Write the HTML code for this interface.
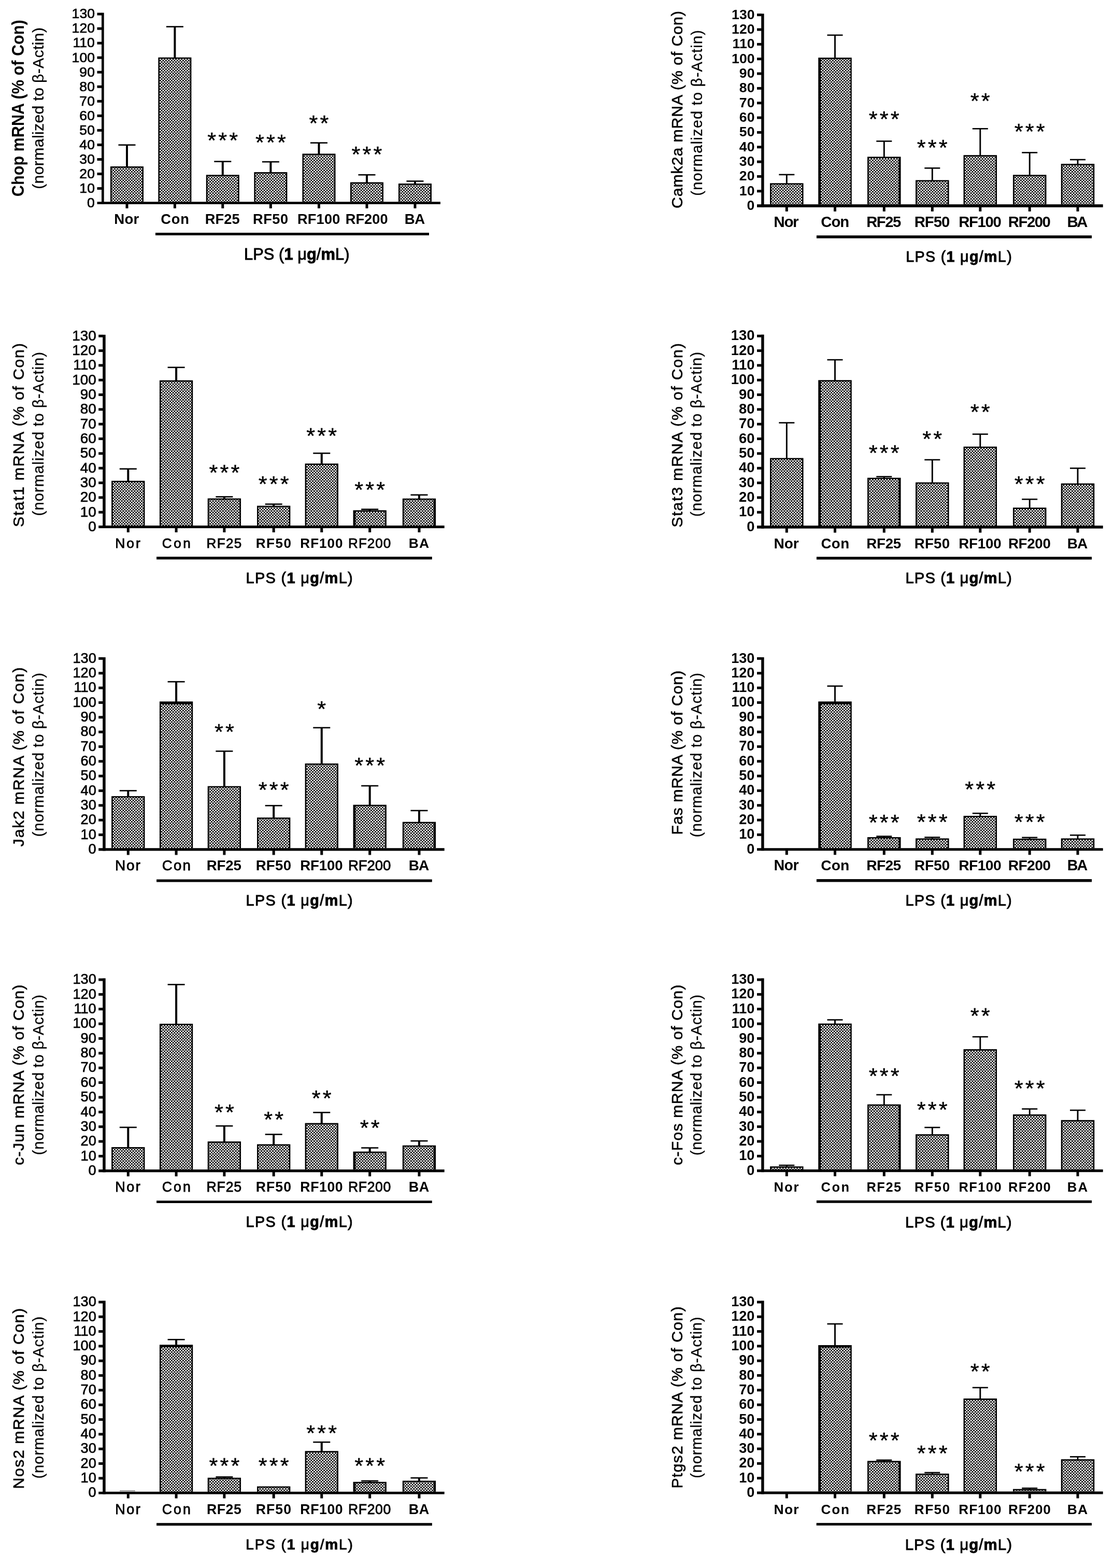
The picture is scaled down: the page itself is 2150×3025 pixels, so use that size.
<!DOCTYPE html>
<html><head><meta charset="utf-8"><title>Figure</title>
<style>html,body{margin:0;padding:0;background:#fff;}svg{display:block}text{font-family:"Liberation Sans",Arial,sans-serif;fill:#000}</style>
</head><body>
<svg width="2150" height="3025" viewBox="0 0 2150 3025">
<defs>
<pattern id="p1" width="5.5" height="5.5" patternUnits="userSpaceOnUse"><rect width="5.5" height="5.5" fill="#fff"/><rect width="2.75" height="2.75" fill="#000"/><rect x="2.75" y="2.75" width="2.75" height="2.75" fill="#000"/></pattern>
</defs>
<rect width="2150" height="3025" fill="#fff"/>
<rect x="213" y="321" width="64" height="68.3" fill="#000"/>
<rect x="215.6" y="323.6" width="58.8" height="65.7" fill="url(#p1)"/>
<rect x="243" y="279.7" width="4" height="41.8" fill="#000"/>
<rect x="228.5" y="278.4" width="33" height="2.6" fill="#000"/>
<rect x="305.4" y="110.8" width="64" height="278.5" fill="#000"/>
<rect x="308" y="113.4" width="58.8" height="275.9" fill="url(#p1)"/>
<rect x="335.4" y="51.5" width="4" height="59.8" fill="#000"/>
<rect x="320.9" y="50.2" width="33" height="2.6" fill="#000"/>
<rect x="397.8" y="337.3" width="64" height="52" fill="#000"/>
<rect x="400.4" y="339.9" width="58.8" height="49.4" fill="url(#p1)"/>
<rect x="427.8" y="311.6" width="4" height="26.2" fill="#000"/>
<rect x="413.3" y="310.3" width="33" height="2.6" fill="#000"/>
<rect x="490.4" y="332.1" width="64" height="57.2" fill="#000"/>
<rect x="493" y="334.7" width="58.8" height="54.6" fill="url(#p1)"/>
<rect x="520.4" y="312.2" width="4" height="20.4" fill="#000"/>
<rect x="505.9" y="310.9" width="33" height="2.6" fill="#000"/>
<rect x="583.5" y="296.5" width="64" height="92.8" fill="#000"/>
<rect x="586.1" y="299.1" width="58.8" height="90.2" fill="url(#p1)"/>
<rect x="613.5" y="275.6" width="4" height="21.4" fill="#000"/>
<rect x="599" y="274.3" width="33" height="2.6" fill="#000"/>
<rect x="676" y="351.6" width="64" height="37.7" fill="#000"/>
<rect x="678.6" y="354.2" width="58.8" height="35.1" fill="url(#p1)"/>
<rect x="706" y="337.3" width="4" height="14.8" fill="#000"/>
<rect x="691.5" y="336" width="33" height="2.6" fill="#000"/>
<rect x="769" y="354.1" width="64" height="35.2" fill="#000"/>
<rect x="771.6" y="356.7" width="58.8" height="32.6" fill="url(#p1)"/>
<rect x="799" y="349.5" width="4" height="5.1" fill="#000"/>
<rect x="784.5" y="348.2" width="33" height="2.6" fill="#000"/>
<rect x="196" y="24.6" width="4.7" height="369.3" fill="#000"/>
<text x="168.12" y="399.9" font-size="26.57" font-weight="normal" stroke="#000" stroke-width="0.7">0</text>
<rect x="187.5" y="361.06" width="9" height="5" fill="#000"/>
<text x="153.37" y="371.86" font-size="26.57" font-weight="normal" stroke="#000" stroke-width="0.7">10</text>
<rect x="187.5" y="333.02" width="9" height="5" fill="#000"/>
<text x="153.37" y="343.82" font-size="26.57" font-weight="normal" stroke="#000" stroke-width="0.7">20</text>
<rect x="187.5" y="304.98" width="9" height="5" fill="#000"/>
<text x="153.37" y="315.78" font-size="26.57" font-weight="normal" stroke="#000" stroke-width="0.7">30</text>
<rect x="187.5" y="276.95" width="9" height="5" fill="#000"/>
<text x="153.37" y="287.75" font-size="26.57" font-weight="normal" stroke="#000" stroke-width="0.7">40</text>
<rect x="187.5" y="248.91" width="9" height="5" fill="#000"/>
<text x="153.37" y="259.71" font-size="26.57" font-weight="normal" stroke="#000" stroke-width="0.7">50</text>
<rect x="187.5" y="220.87" width="9" height="5" fill="#000"/>
<text x="153.37" y="231.67" font-size="26.57" font-weight="normal" stroke="#000" stroke-width="0.7">60</text>
<rect x="187.5" y="192.83" width="9" height="5" fill="#000"/>
<text x="153.37" y="203.63" font-size="26.57" font-weight="normal" stroke="#000" stroke-width="0.7">70</text>
<rect x="187.5" y="164.79" width="9" height="5" fill="#000"/>
<text x="153.37" y="175.59" font-size="26.57" font-weight="normal" stroke="#000" stroke-width="0.7">80</text>
<rect x="187.5" y="136.75" width="9" height="5" fill="#000"/>
<text x="153.37" y="147.55" font-size="26.57" font-weight="normal" stroke="#000" stroke-width="0.7">90</text>
<rect x="187.5" y="108.72" width="9" height="5" fill="#000"/>
<text x="138.62" y="119.52" font-size="26.57" font-weight="normal" stroke="#000" stroke-width="0.7">100</text>
<rect x="187.5" y="80.68" width="9" height="5" fill="#000"/>
<text x="140.48" y="91.48" font-size="26.57" font-weight="normal" stroke="#000" stroke-width="0.7">110</text>
<rect x="187.5" y="52.64" width="9" height="5" fill="#000"/>
<text x="138.62" y="63.44" font-size="26.57" font-weight="normal" stroke="#000" stroke-width="0.7">120</text>
<rect x="187.5" y="24.6" width="9" height="5" fill="#000"/>
<text x="138.62" y="35.4" font-size="26.57" font-weight="normal" stroke="#000" stroke-width="0.7">130</text>
<rect x="187.5" y="389.3" width="662.5" height="4.6" fill="#000"/>
<rect x="242.5" y="393.4" width="5" height="8.5" fill="#000"/>
<rect x="334.9" y="393.4" width="5" height="8.5" fill="#000"/>
<rect x="427.3" y="393.4" width="5" height="8.5" fill="#000"/>
<rect x="519.9" y="393.4" width="5" height="8.5" fill="#000"/>
<rect x="613" y="393.4" width="5" height="8.5" fill="#000"/>
<rect x="705.5" y="393.4" width="5" height="8.5" fill="#000"/>
<rect x="798.5" y="393.4" width="5" height="8.5" fill="#000"/>
<text x="220.2" y="432.4" font-size="27.68" font-weight="bold" textLength="48.14" lengthAdjust="spacing">Nor</text>
<text x="310.31" y="432.4" font-size="27.29" font-weight="bold" textLength="54.7" lengthAdjust="spacing">Con</text>
<text x="395.78" y="432.4" font-size="27.29" font-weight="bold" textLength="66.97" lengthAdjust="spacing">RF25</text>
<text x="487.88" y="432.4" font-size="27.29" font-weight="bold" textLength="68.38" lengthAdjust="spacing">RF50</text>
<text x="573.98" y="432.4" font-size="27.29" font-weight="bold" textLength="82.41" lengthAdjust="spacing">RF100</text>
<text x="666.73" y="432.4" font-size="27.29" font-weight="bold" textLength="81.91" lengthAdjust="spacing">RF200</text>
<text x="780.7" y="432.4" font-size="27.68" font-weight="bold" textLength="39.61" lengthAdjust="spacing">BA</text>
<rect x="300" y="449" width="528" height="5" fill="#000"/>
<text x="471.03" y="500.5" font-size="30.87" textLength="203.4" lengthAdjust="spacing" stroke="#000" stroke-width="0.9">LPS (<tspan font-weight="bold">1</tspan> μ<tspan font-weight="bold">g</tspan>/<tspan font-weight="bold">m</tspan>L)</text>
<text x="400.33" y="284.87" font-size="43.43" font-weight="normal" letter-spacing="4.1" stroke="#000" stroke-width="0.4">***</text>
<text x="492.93" y="288.57" font-size="43.43" font-weight="normal" letter-spacing="4.1" stroke="#000" stroke-width="0.4">***</text>
<text x="596.53" y="252.37" font-size="43.43" font-weight="normal" letter-spacing="4.1" stroke="#000" stroke-width="0.4">**</text>
<text x="678.53" y="312.07" font-size="43.43" font-weight="normal" letter-spacing="4.1" stroke="#000" stroke-width="0.4">***</text>
<text transform="translate(45.5,379.15) rotate(-90)" font-size="33.66" font-weight="bold" textLength="340.85" lengthAdjust="spacingAndGlyphs">Chop mRNA (% of Con)</text>
<text transform="translate(84,364.81) rotate(-90)" font-size="30.21" font-weight="normal" textLength="311.83" lengthAdjust="spacing" stroke="#000" stroke-width="0.3">(normalized to β-Actin)</text>

<rect x="1486.05" y="353.4" width="64.5" height="40.8" fill="#000"/>
<rect x="1488.65" y="356" width="59.3" height="38.2" fill="url(#p1)"/>
<rect x="1516.85" y="336.9" width="2.9" height="17" fill="#000"/>
<rect x="1503.3" y="335.6" width="30" height="2.6" fill="#000"/>
<rect x="1579.25" y="111.2" width="64.5" height="283" fill="#000"/>
<rect x="1584.25" y="114" width="57.1" height="280.2" fill="url(#p1)"/>
<rect x="1610.05" y="67.8" width="2.9" height="43.9" fill="#000"/>
<rect x="1596.5" y="66.5" width="30" height="2.6" fill="#000"/>
<rect x="1674.05" y="302.4" width="64.5" height="91.8" fill="#000"/>
<rect x="1676.65" y="305" width="57.7" height="89.2" fill="url(#p1)"/>
<rect x="1704.85" y="272.4" width="2.9" height="30.5" fill="#000"/>
<rect x="1691.3" y="271.1" width="30" height="2.6" fill="#000"/>
<rect x="1767.05" y="347.5" width="64.5" height="46.7" fill="#000"/>
<rect x="1769.65" y="350.1" width="59.3" height="44.1" fill="url(#p1)"/>
<rect x="1797.85" y="324.3" width="2.9" height="23.7" fill="#000"/>
<rect x="1784.3" y="323" width="30" height="2.6" fill="#000"/>
<rect x="1859.55" y="299.2" width="64.5" height="95" fill="#000"/>
<rect x="1862.15" y="301.8" width="59.3" height="92.4" fill="url(#p1)"/>
<rect x="1890.35" y="248.3" width="2.9" height="51.4" fill="#000"/>
<rect x="1876.8" y="247" width="30" height="2.6" fill="#000"/>
<rect x="1954.95" y="337.3" width="64.5" height="56.9" fill="#000"/>
<rect x="1957.55" y="339.9" width="59.3" height="54.3" fill="url(#p1)"/>
<rect x="1985.75" y="294.4" width="2.9" height="43.4" fill="#000"/>
<rect x="1972.2" y="293.1" width="30" height="2.6" fill="#000"/>
<rect x="2047.75" y="316" width="64.5" height="78.2" fill="#000"/>
<rect x="2050.35" y="318.6" width="59.3" height="75.6" fill="url(#p1)"/>
<rect x="2078.55" y="308" width="2.9" height="8.5" fill="#000"/>
<rect x="2065" y="306.7" width="30" height="2.6" fill="#000"/>
<rect x="1469.2" y="26.4" width="5.4" height="373.5" fill="#000"/>
<text x="1441.62" y="405" font-size="26.57" font-weight="bold">0</text>
<rect x="1461" y="366.26" width="8.7" height="5" fill="#000"/>
<text x="1426.87" y="376.66" font-size="26.57" font-weight="bold">10</text>
<rect x="1461" y="337.92" width="8.7" height="5" fill="#000"/>
<text x="1426.87" y="348.32" font-size="26.57" font-weight="bold">20</text>
<rect x="1461" y="309.58" width="8.7" height="5" fill="#000"/>
<text x="1426.87" y="319.98" font-size="26.57" font-weight="bold">30</text>
<rect x="1461" y="281.25" width="8.7" height="5" fill="#000"/>
<text x="1426.87" y="291.65" font-size="26.57" font-weight="bold">40</text>
<rect x="1461" y="252.91" width="8.7" height="5" fill="#000"/>
<text x="1426.87" y="263.31" font-size="26.57" font-weight="bold">50</text>
<rect x="1461" y="224.57" width="8.7" height="5" fill="#000"/>
<text x="1426.87" y="234.97" font-size="26.57" font-weight="bold">60</text>
<rect x="1461" y="196.23" width="8.7" height="5" fill="#000"/>
<text x="1426.87" y="206.63" font-size="26.57" font-weight="bold">70</text>
<rect x="1461" y="167.89" width="8.7" height="5" fill="#000"/>
<text x="1426.87" y="178.29" font-size="26.57" font-weight="bold">80</text>
<rect x="1461" y="139.55" width="8.7" height="5" fill="#000"/>
<text x="1426.87" y="149.95" font-size="26.57" font-weight="bold">90</text>
<rect x="1461" y="111.22" width="8.7" height="5" fill="#000"/>
<text x="1412.12" y="121.62" font-size="26.57" font-weight="bold">100</text>
<rect x="1461" y="82.88" width="8.7" height="5" fill="#000"/>
<text x="1413.58" y="93.28" font-size="26.57" font-weight="bold">110</text>
<rect x="1461" y="54.54" width="8.7" height="5" fill="#000"/>
<text x="1412.12" y="64.94" font-size="26.57" font-weight="bold">120</text>
<rect x="1461" y="26.2" width="8.7" height="5" fill="#000"/>
<text x="1412.12" y="36.6" font-size="26.57" font-weight="bold">130</text>
<rect x="1461" y="394.2" width="667.7" height="5.7" fill="#000"/>
<rect x="1515.8" y="399.4" width="5" height="8.5" fill="#000"/>
<rect x="1609" y="399.4" width="5" height="8.5" fill="#000"/>
<rect x="1703.8" y="399.4" width="5" height="8.5" fill="#000"/>
<rect x="1796.8" y="399.4" width="5" height="8.5" fill="#000"/>
<rect x="1889.3" y="399.4" width="5" height="8.5" fill="#000"/>
<rect x="1984.7" y="399.4" width="5" height="8.5" fill="#000"/>
<rect x="2077.5" y="399.4" width="5" height="8.5" fill="#000"/>
<text x="1493.37" y="437.8" font-size="29.71" font-weight="bold" textLength="48.29" lengthAdjust="spacing">Nor</text>
<text x="1584.33" y="437.8" font-size="29.29" font-weight="bold" textLength="54.9" lengthAdjust="spacing">Con</text>
<text x="1672.15" y="437.8" font-size="29.29" font-weight="bold" textLength="67.15" lengthAdjust="spacing">RF25</text>
<text x="1764.65" y="437.8" font-size="29.29" font-weight="bold" textLength="68.59" lengthAdjust="spacing">RF50</text>
<text x="1850.15" y="437.8" font-size="29.29" font-weight="bold" textLength="82.62" lengthAdjust="spacing">RF100</text>
<text x="1945.8" y="437.8" font-size="29.29" font-weight="bold" textLength="82.12" lengthAdjust="spacing">RF200</text>
<text x="2059.57" y="437.8" font-size="29.71" font-weight="bold" textLength="39.8" lengthAdjust="spacing">BA</text>
<rect x="1575.9" y="454.2" width="531.2" height="5.5" fill="#000"/>
<text x="1748.2" y="505.4" font-size="28.7" textLength="204.49" lengthAdjust="spacing" stroke="#000" stroke-width="0.9">LPS (<tspan font-weight="bold">1</tspan> μ<tspan font-weight="bold">g</tspan>/<tspan font-weight="bold">m</tspan>L)</text>
<text x="1676.83" y="244.07" font-size="43.43" font-weight="normal" letter-spacing="4.1" stroke="#000" stroke-width="0.4">***</text>
<text x="1769.83" y="298.67" font-size="43.43" font-weight="normal" letter-spacing="4.1" stroke="#000" stroke-width="0.4">***</text>
<text x="1872.83" y="208.97" font-size="43.43" font-weight="normal" letter-spacing="4.1" stroke="#000" stroke-width="0.4">**</text>
<text x="1957.73" y="268.17" font-size="43.43" font-weight="normal" letter-spacing="4.1" stroke="#000" stroke-width="0.4">***</text>
<text transform="translate(1316.8,402.01) rotate(-90)" font-size="30.21" font-weight="normal" textLength="380.81" lengthAdjust="spacing" stroke="#000" stroke-width="0.6">Camk2a mRNA (% of Con)</text>
<text transform="translate(1355.3,377.74) rotate(-90)" font-size="28.97" font-weight="normal" textLength="319.68" lengthAdjust="spacing" stroke="#000" stroke-width="0.3">(normalized to β-Actin)</text>

<rect x="215.15" y="927.6" width="64.3" height="86.3" fill="#000"/>
<rect x="217.75" y="930.2" width="59.1" height="83.7" fill="url(#p1)"/>
<rect x="245.3" y="904.6" width="4" height="23.5" fill="#000"/>
<rect x="230.8" y="903.3" width="33" height="2.6" fill="#000"/>
<rect x="307.95" y="733.7" width="64.3" height="280.2" fill="#000"/>
<rect x="310.55" y="736.3" width="59.1" height="277.6" fill="url(#p1)"/>
<rect x="338.1" y="708.8" width="4" height="25.4" fill="#000"/>
<rect x="323.6" y="707.5" width="33" height="2.6" fill="#000"/>
<rect x="400.75" y="961.5" width="64.3" height="52.4" fill="#000"/>
<rect x="403.35" y="964.1" width="59.1" height="49.8" fill="url(#p1)"/>
<rect x="430.9" y="958.4" width="4" height="3.6" fill="#000"/>
<rect x="416.4" y="957.1" width="33" height="2.6" fill="#000"/>
<rect x="496.05" y="975.7" width="64.3" height="38.2" fill="#000"/>
<rect x="498.65" y="978.3" width="59.1" height="35.6" fill="url(#p1)"/>
<rect x="526.2" y="972.6" width="4" height="3.6" fill="#000"/>
<rect x="511.7" y="971.3" width="33" height="2.6" fill="#000"/>
<rect x="588.65" y="894.3" width="64.3" height="119.6" fill="#000"/>
<rect x="591.25" y="896.9" width="59.1" height="117" fill="url(#p1)"/>
<rect x="618.8" y="874.4" width="4" height="20.4" fill="#000"/>
<rect x="604.3" y="873.1" width="33" height="2.6" fill="#000"/>
<rect x="681.55" y="984.4" width="64.3" height="29.5" fill="#000"/>
<rect x="686.25" y="987" width="57" height="26.9" fill="url(#p1)"/>
<rect x="711.7" y="982.6" width="4" height="2.3" fill="#000"/>
<rect x="697.2" y="981.3" width="33" height="2.6" fill="#000"/>
<rect x="776.85" y="961.7" width="64.3" height="52.2" fill="#000"/>
<rect x="779.45" y="964.3" width="57.4" height="49.6" fill="url(#p1)"/>
<rect x="807" y="954.8" width="4" height="7.4" fill="#000"/>
<rect x="792.5" y="953.5" width="33" height="2.6" fill="#000"/>
<rect x="198.2" y="645.8" width="5.5" height="373.2" fill="#000"/>
<text x="170.25" y="1024.85" font-size="27.86" font-weight="normal" stroke="#000" stroke-width="0.7">0</text>
<rect x="190.2" y="985.67" width="8.5" height="5" fill="#000"/>
<text x="154.79" y="996.52" font-size="27.86" font-weight="normal" stroke="#000" stroke-width="0.7">10</text>
<rect x="190.2" y="957.34" width="8.5" height="5" fill="#000"/>
<text x="154.79" y="968.19" font-size="27.86" font-weight="normal" stroke="#000" stroke-width="0.7">20</text>
<rect x="190.2" y="929.01" width="8.5" height="5" fill="#000"/>
<text x="154.79" y="939.86" font-size="27.86" font-weight="normal" stroke="#000" stroke-width="0.7">30</text>
<rect x="190.2" y="900.68" width="8.5" height="5" fill="#000"/>
<text x="154.79" y="911.53" font-size="27.86" font-weight="normal" stroke="#000" stroke-width="0.7">40</text>
<rect x="190.2" y="872.35" width="8.5" height="5" fill="#000"/>
<text x="154.79" y="883.2" font-size="27.86" font-weight="normal" stroke="#000" stroke-width="0.7">50</text>
<rect x="190.2" y="844.02" width="8.5" height="5" fill="#000"/>
<text x="154.79" y="854.87" font-size="27.86" font-weight="normal" stroke="#000" stroke-width="0.7">60</text>
<rect x="190.2" y="815.68" width="8.5" height="5" fill="#000"/>
<text x="154.79" y="826.53" font-size="27.86" font-weight="normal" stroke="#000" stroke-width="0.7">70</text>
<rect x="190.2" y="787.35" width="8.5" height="5" fill="#000"/>
<text x="154.79" y="798.2" font-size="27.86" font-weight="normal" stroke="#000" stroke-width="0.7">80</text>
<rect x="190.2" y="759.02" width="8.5" height="5" fill="#000"/>
<text x="154.79" y="769.87" font-size="27.86" font-weight="normal" stroke="#000" stroke-width="0.7">90</text>
<rect x="190.2" y="730.69" width="8.5" height="5" fill="#000"/>
<text x="139.33" y="741.54" font-size="27.86" font-weight="normal" stroke="#000" stroke-width="0.7">100</text>
<rect x="190.2" y="702.36" width="8.5" height="5" fill="#000"/>
<text x="141.28" y="713.21" font-size="27.86" font-weight="normal" stroke="#000" stroke-width="0.7">110</text>
<rect x="190.2" y="674.03" width="8.5" height="5" fill="#000"/>
<text x="139.33" y="684.88" font-size="27.86" font-weight="normal" stroke="#000" stroke-width="0.7">120</text>
<rect x="190.2" y="645.7" width="8.5" height="5" fill="#000"/>
<text x="139.33" y="656.55" font-size="27.86" font-weight="normal" stroke="#000" stroke-width="0.7">130</text>
<rect x="190.2" y="1013.9" width="667.5" height="5.1" fill="#000"/>
<rect x="244.8" y="1018.5" width="5" height="8.5" fill="#000"/>
<rect x="337.6" y="1018.5" width="5" height="8.5" fill="#000"/>
<rect x="430.4" y="1018.5" width="5" height="8.5" fill="#000"/>
<rect x="525.7" y="1018.5" width="5" height="8.5" fill="#000"/>
<rect x="618.3" y="1018.5" width="5" height="8.5" fill="#000"/>
<rect x="711.2" y="1018.5" width="5" height="8.5" fill="#000"/>
<rect x="806.5" y="1018.5" width="5" height="8.5" fill="#000"/>
<text x="222.18" y="1057" font-size="26.52" font-weight="normal" textLength="48.56" lengthAdjust="spacing" stroke="#000" stroke-width="0.8">Nor</text>
<text x="312.79" y="1057" font-size="26.14" font-weight="normal" textLength="54.99" lengthAdjust="spacing" stroke="#000" stroke-width="0.8">Con</text>
<text x="398.56" y="1057" font-size="26.14" font-weight="normal" textLength="67.65" lengthAdjust="spacing" stroke="#000" stroke-width="0.8">RF25</text>
<text x="493.75" y="1057" font-size="26.14" font-weight="bold" textLength="68.26" lengthAdjust="spacing">RF50</text>
<text x="579.35" y="1057" font-size="26.14" font-weight="bold" textLength="82.29" lengthAdjust="spacing">RF100</text>
<text x="672.11" y="1057" font-size="26.14" font-weight="normal" textLength="82.18" lengthAdjust="spacing" stroke="#000" stroke-width="0.8">RF200</text>
<text x="788.78" y="1057" font-size="26.52" font-weight="bold" textLength="39.5" lengthAdjust="spacing">BA</text>
<rect x="302.1" y="1074" width="531.7" height="5.3" fill="#000"/>
<text x="474.48" y="1125.3" font-size="28.99" textLength="206.23" lengthAdjust="spacing" stroke="#000" stroke-width="0.9">LPS (<tspan font-weight="bold">1</tspan> μ<tspan font-weight="bold">g</tspan>/<tspan font-weight="bold">m</tspan>L)</text>
<text x="403.43" y="926.37" font-size="43.43" font-weight="normal" letter-spacing="4.1" stroke="#000" stroke-width="0.4">***</text>
<text x="498.73" y="948.17" font-size="43.43" font-weight="normal" letter-spacing="4.1" stroke="#000" stroke-width="0.4">***</text>
<text x="591.33" y="855.37" font-size="43.43" font-weight="normal" letter-spacing="4.1" stroke="#000" stroke-width="0.4">***</text>
<text x="684.23" y="958.87" font-size="43.43" font-weight="normal" letter-spacing="4.1" stroke="#000" stroke-width="0.4">***</text>
<text transform="translate(45.9,1016.66) rotate(-90)" font-size="30.21" font-weight="normal" textLength="354.4" lengthAdjust="spacing" stroke="#000" stroke-width="0.6">Stat1 mRNA (% of Con)</text>
<text transform="translate(83.6,995.15) rotate(-90)" font-size="29.1" font-weight="normal" textLength="316.19" lengthAdjust="spacing" stroke="#000" stroke-width="0.3">(normalized to β-Actin)</text>

<rect x="1486.05" y="883.6" width="64.5" height="130.4" fill="#000"/>
<rect x="1488.65" y="886.2" width="59.3" height="127.8" fill="url(#p1)"/>
<rect x="1516.85" y="815.6" width="2.9" height="68.5" fill="#000"/>
<rect x="1503.3" y="814.3" width="30" height="2.6" fill="#000"/>
<rect x="1579.25" y="733.3" width="64.5" height="280.7" fill="#000"/>
<rect x="1584.25" y="735.9" width="56.9" height="278.1" fill="url(#p1)"/>
<rect x="1610.05" y="694.1" width="2.9" height="39.7" fill="#000"/>
<rect x="1596.5" y="692.8" width="30" height="2.6" fill="#000"/>
<rect x="1674.05" y="921.7" width="64.5" height="92.3" fill="#000"/>
<rect x="1676.65" y="924.3" width="57.7" height="89.7" fill="url(#p1)"/>
<rect x="1704.85" y="919.6" width="2.9" height="2.6" fill="#000"/>
<rect x="1691.3" y="918.3" width="30" height="2.6" fill="#000"/>
<rect x="1767.05" y="930.6" width="64.5" height="83.4" fill="#000"/>
<rect x="1769.65" y="933.2" width="59.3" height="80.8" fill="url(#p1)"/>
<rect x="1797.85" y="887" width="2.9" height="44.1" fill="#000"/>
<rect x="1784.3" y="885.7" width="30" height="2.6" fill="#000"/>
<rect x="1859.55" y="861.6" width="64.5" height="152.4" fill="#000"/>
<rect x="1862.15" y="864.2" width="59.3" height="149.8" fill="url(#p1)"/>
<rect x="1890.35" y="837.6" width="2.9" height="24.5" fill="#000"/>
<rect x="1876.8" y="836.3" width="30" height="2.6" fill="#000"/>
<rect x="1954.95" y="979.3" width="64.5" height="34.7" fill="#000"/>
<rect x="1957.55" y="981.9" width="59.3" height="32.1" fill="url(#p1)"/>
<rect x="1985.75" y="963.2" width="2.9" height="16.6" fill="#000"/>
<rect x="1972.2" y="961.9" width="30" height="2.6" fill="#000"/>
<rect x="2047.75" y="932.6" width="64.5" height="81.4" fill="#000"/>
<rect x="2050.35" y="935.2" width="59.3" height="78.8" fill="url(#p1)"/>
<rect x="2078.55" y="903.3" width="2.9" height="29.8" fill="#000"/>
<rect x="2065" y="902" width="30" height="2.6" fill="#000"/>
<rect x="1469.2" y="645.5" width="5.4" height="374.1" fill="#000"/>
<text x="1441.17" y="1024.7" font-size="27.43" font-weight="bold">0</text>
<rect x="1461" y="985.76" width="8.7" height="5" fill="#000"/>
<text x="1425.95" y="996.36" font-size="27.43" font-weight="bold">10</text>
<rect x="1461" y="957.42" width="8.7" height="5" fill="#000"/>
<text x="1425.95" y="968.02" font-size="27.43" font-weight="bold">20</text>
<rect x="1461" y="929.08" width="8.7" height="5" fill="#000"/>
<text x="1425.95" y="939.68" font-size="27.43" font-weight="bold">30</text>
<rect x="1461" y="900.75" width="8.7" height="5" fill="#000"/>
<text x="1425.95" y="911.35" font-size="27.43" font-weight="bold">40</text>
<rect x="1461" y="872.41" width="8.7" height="5" fill="#000"/>
<text x="1425.95" y="883.01" font-size="27.43" font-weight="bold">50</text>
<rect x="1461" y="844.07" width="8.7" height="5" fill="#000"/>
<text x="1425.95" y="854.67" font-size="27.43" font-weight="bold">60</text>
<rect x="1461" y="815.73" width="8.7" height="5" fill="#000"/>
<text x="1425.95" y="826.33" font-size="27.43" font-weight="bold">70</text>
<rect x="1461" y="787.39" width="8.7" height="5" fill="#000"/>
<text x="1425.95" y="797.99" font-size="27.43" font-weight="bold">80</text>
<rect x="1461" y="759.05" width="8.7" height="5" fill="#000"/>
<text x="1425.95" y="769.65" font-size="27.43" font-weight="bold">90</text>
<rect x="1461" y="730.72" width="8.7" height="5" fill="#000"/>
<text x="1410.73" y="741.32" font-size="27.43" font-weight="bold">100</text>
<rect x="1461" y="702.38" width="8.7" height="5" fill="#000"/>
<text x="1412.24" y="712.98" font-size="27.43" font-weight="bold">110</text>
<rect x="1461" y="674.04" width="8.7" height="5" fill="#000"/>
<text x="1410.73" y="684.64" font-size="27.43" font-weight="bold">120</text>
<rect x="1461" y="645.7" width="8.7" height="5" fill="#000"/>
<text x="1410.73" y="656.3" font-size="27.43" font-weight="bold">130</text>
<rect x="1461" y="1014" width="667.7" height="5.6" fill="#000"/>
<rect x="1515.8" y="1019.1" width="5" height="8.5" fill="#000"/>
<rect x="1609" y="1019.1" width="5" height="8.5" fill="#000"/>
<rect x="1703.8" y="1019.1" width="5" height="8.5" fill="#000"/>
<rect x="1796.8" y="1019.1" width="5" height="8.5" fill="#000"/>
<rect x="1889.3" y="1019.1" width="5" height="8.5" fill="#000"/>
<rect x="1984.7" y="1019.1" width="5" height="8.5" fill="#000"/>
<rect x="2077.5" y="1019.1" width="5" height="8.5" fill="#000"/>
<text x="1493.47" y="1057.8" font-size="28.12" font-weight="bold" textLength="48.17" lengthAdjust="spacing">Nor</text>
<text x="1584.39" y="1057.8" font-size="27.71" font-weight="bold" textLength="54.74" lengthAdjust="spacing">Con</text>
<text x="1672.25" y="1057.8" font-size="27.71" font-weight="bold" textLength="67.01" lengthAdjust="spacing">RF25</text>
<text x="1764.75" y="1057.8" font-size="27.71" font-weight="bold" textLength="68.42" lengthAdjust="spacing">RF50</text>
<text x="1850.25" y="1057.8" font-size="27.71" font-weight="bold" textLength="82.45" lengthAdjust="spacing">RF100</text>
<text x="1945.9" y="1057.8" font-size="27.71" font-weight="bold" textLength="81.95" lengthAdjust="spacing">RF200</text>
<text x="2059.67" y="1057.8" font-size="28.12" font-weight="bold" textLength="39.65" lengthAdjust="spacing">BA</text>
<rect x="1575.9" y="1074.2" width="531.2" height="5.3" fill="#000"/>
<text x="1747.46" y="1125.2" font-size="29.28" textLength="205.27" lengthAdjust="spacing" stroke="#000" stroke-width="0.9">LPS (<tspan font-weight="bold">1</tspan> μ<tspan font-weight="bold">g</tspan>/<tspan font-weight="bold">m</tspan>L)</text>
<text x="1676.83" y="888.17" font-size="43.43" font-weight="normal" letter-spacing="4.1" stroke="#000" stroke-width="0.4">***</text>
<text x="1780.33" y="860.87" font-size="43.43" font-weight="normal" letter-spacing="4.1" stroke="#000" stroke-width="0.4">**</text>
<text x="1872.83" y="809.07" font-size="43.43" font-weight="normal" letter-spacing="4.1" stroke="#000" stroke-width="0.4">**</text>
<text x="1957.73" y="948.37" font-size="43.43" font-weight="normal" letter-spacing="4.1" stroke="#000" stroke-width="0.4">***</text>
<text transform="translate(1316.8,1017.56) rotate(-90)" font-size="30.21" font-weight="normal" textLength="355.3" lengthAdjust="spacing" stroke="#000" stroke-width="0.6">Stat3 mRNA (% of Con)</text>
<text transform="translate(1354.4,996.84) rotate(-90)" font-size="28.97" font-weight="normal" textLength="317.88" lengthAdjust="spacing" stroke="#000" stroke-width="0.3">(normalized to β-Actin)</text>

<rect x="215.15" y="1535.9" width="64.3" height="100.3" fill="#000"/>
<rect x="217.75" y="1538.5" width="59.1" height="97.7" fill="url(#p1)"/>
<rect x="245.3" y="1525.4" width="4" height="11" fill="#000"/>
<rect x="230.8" y="1524.1" width="33" height="2.6" fill="#000"/>
<rect x="307.95" y="1353.3" width="64.3" height="282.9" fill="#000"/>
<rect x="310.55" y="1358.7" width="59.1" height="277.5" fill="url(#p1)"/>
<rect x="338.1" y="1315.2" width="4" height="38.6" fill="#000"/>
<rect x="323.6" y="1313.9" width="33" height="2.6" fill="#000"/>
<rect x="400.75" y="1516.6" width="64.3" height="119.6" fill="#000"/>
<rect x="403.35" y="1519.2" width="59.1" height="117" fill="url(#p1)"/>
<rect x="430.9" y="1449.2" width="4" height="67.9" fill="#000"/>
<rect x="416.4" y="1447.9" width="33" height="2.6" fill="#000"/>
<rect x="496.05" y="1577.2" width="64.3" height="59" fill="#000"/>
<rect x="498.65" y="1579.8" width="59.1" height="56.4" fill="url(#p1)"/>
<rect x="526.2" y="1554.2" width="4" height="23.5" fill="#000"/>
<rect x="511.7" y="1552.9" width="33" height="2.6" fill="#000"/>
<rect x="588.65" y="1472.9" width="64.3" height="163.3" fill="#000"/>
<rect x="591.25" y="1475.5" width="59.1" height="160.7" fill="url(#p1)"/>
<rect x="618.8" y="1403.9" width="4" height="69.5" fill="#000"/>
<rect x="604.3" y="1402.6" width="33" height="2.6" fill="#000"/>
<rect x="681.55" y="1552.6" width="64.3" height="83.6" fill="#000"/>
<rect x="686.25" y="1555.2" width="57" height="81" fill="url(#p1)"/>
<rect x="711.7" y="1516" width="4" height="37.1" fill="#000"/>
<rect x="697.2" y="1514.7" width="33" height="2.6" fill="#000"/>
<rect x="776.85" y="1585.6" width="64.3" height="50.6" fill="#000"/>
<rect x="779.45" y="1588.2" width="57.4" height="48" fill="url(#p1)"/>
<rect x="807" y="1563.8" width="4" height="22.3" fill="#000"/>
<rect x="792.5" y="1562.5" width="33" height="2.6" fill="#000"/>
<rect x="198.2" y="1268" width="5.5" height="373.4" fill="#000"/>
<text x="170.62" y="1647" font-size="27.14" font-weight="normal" stroke="#000" stroke-width="0.7">0</text>
<rect x="190.2" y="1607.96" width="8.5" height="5" fill="#000"/>
<text x="155.56" y="1618.66" font-size="27.14" font-weight="normal" stroke="#000" stroke-width="0.7">10</text>
<rect x="190.2" y="1579.62" width="8.5" height="5" fill="#000"/>
<text x="155.56" y="1590.32" font-size="27.14" font-weight="normal" stroke="#000" stroke-width="0.7">20</text>
<rect x="190.2" y="1551.28" width="8.5" height="5" fill="#000"/>
<text x="155.56" y="1561.98" font-size="27.14" font-weight="normal" stroke="#000" stroke-width="0.7">30</text>
<rect x="190.2" y="1522.95" width="8.5" height="5" fill="#000"/>
<text x="155.56" y="1533.65" font-size="27.14" font-weight="normal" stroke="#000" stroke-width="0.7">40</text>
<rect x="190.2" y="1494.61" width="8.5" height="5" fill="#000"/>
<text x="155.56" y="1505.31" font-size="27.14" font-weight="normal" stroke="#000" stroke-width="0.7">50</text>
<rect x="190.2" y="1466.27" width="8.5" height="5" fill="#000"/>
<text x="155.56" y="1476.97" font-size="27.14" font-weight="normal" stroke="#000" stroke-width="0.7">60</text>
<rect x="190.2" y="1437.93" width="8.5" height="5" fill="#000"/>
<text x="155.56" y="1448.63" font-size="27.14" font-weight="normal" stroke="#000" stroke-width="0.7">70</text>
<rect x="190.2" y="1409.59" width="8.5" height="5" fill="#000"/>
<text x="155.56" y="1420.29" font-size="27.14" font-weight="normal" stroke="#000" stroke-width="0.7">80</text>
<rect x="190.2" y="1381.25" width="8.5" height="5" fill="#000"/>
<text x="155.56" y="1391.95" font-size="27.14" font-weight="normal" stroke="#000" stroke-width="0.7">90</text>
<rect x="190.2" y="1352.92" width="8.5" height="5" fill="#000"/>
<text x="140.49" y="1363.62" font-size="27.14" font-weight="normal" stroke="#000" stroke-width="0.7">100</text>
<rect x="190.2" y="1324.58" width="8.5" height="5" fill="#000"/>
<text x="142.39" y="1335.28" font-size="27.14" font-weight="normal" stroke="#000" stroke-width="0.7">110</text>
<rect x="190.2" y="1296.24" width="8.5" height="5" fill="#000"/>
<text x="140.49" y="1306.94" font-size="27.14" font-weight="normal" stroke="#000" stroke-width="0.7">120</text>
<rect x="190.2" y="1267.9" width="8.5" height="5" fill="#000"/>
<text x="140.49" y="1278.6" font-size="27.14" font-weight="normal" stroke="#000" stroke-width="0.7">130</text>
<rect x="190.2" y="1636.2" width="667.5" height="5.2" fill="#000"/>
<rect x="244.8" y="1640.9" width="5" height="8.5" fill="#000"/>
<rect x="337.6" y="1640.9" width="5" height="8.5" fill="#000"/>
<rect x="430.4" y="1640.9" width="5" height="8.5" fill="#000"/>
<rect x="525.7" y="1640.9" width="5" height="8.5" fill="#000"/>
<rect x="618.3" y="1640.9" width="5" height="8.5" fill="#000"/>
<rect x="711.2" y="1640.9" width="5" height="8.5" fill="#000"/>
<rect x="806.5" y="1640.9" width="5" height="8.5" fill="#000"/>
<text x="222.05" y="1679.4" font-size="28.12" font-weight="normal" textLength="48.71" lengthAdjust="spacing" stroke="#000" stroke-width="0.8">Nor</text>
<text x="312.71" y="1679.4" font-size="27.71" font-weight="normal" textLength="55.17" lengthAdjust="spacing" stroke="#000" stroke-width="0.8">Con</text>
<text x="398.85" y="1679.4" font-size="27.71" font-weight="bold" textLength="67.01" lengthAdjust="spacing">RF25</text>
<text x="493.65" y="1679.4" font-size="27.71" font-weight="bold" textLength="68.42" lengthAdjust="spacing">RF50</text>
<text x="579.25" y="1679.4" font-size="27.71" font-weight="bold" textLength="82.45" lengthAdjust="spacing">RF100</text>
<text x="671.98" y="1679.4" font-size="27.71" font-weight="normal" textLength="82.37" lengthAdjust="spacing" stroke="#000" stroke-width="0.8">RF200</text>
<text x="788.67" y="1679.4" font-size="28.12" font-weight="bold" textLength="39.65" lengthAdjust="spacing">BA</text>
<rect x="302.1" y="1696.5" width="531.7" height="5.1" fill="#000"/>
<text x="474.49" y="1746.5" font-size="28.84" textLength="206.21" lengthAdjust="spacing" stroke="#000" stroke-width="0.9">LPS (<tspan font-weight="bold">1</tspan> μ<tspan font-weight="bold">g</tspan>/<tspan font-weight="bold">m</tspan>L)</text>
<text x="413.93" y="1425.97" font-size="43.43" font-weight="normal" letter-spacing="4.1" stroke="#000" stroke-width="0.4">**</text>
<text x="498.73" y="1537.67" font-size="43.43" font-weight="normal" letter-spacing="4.1" stroke="#000" stroke-width="0.4">***</text>
<text x="612.33" y="1382.17" font-size="43.43" font-weight="normal" letter-spacing="4.1" stroke="#000" stroke-width="0.4">*</text>
<text x="684.23" y="1491.07" font-size="43.43" font-weight="normal" letter-spacing="4.1" stroke="#000" stroke-width="0.4">***</text>
<text transform="translate(45.9,1633.15) rotate(-90)" font-size="30.21" font-weight="normal" textLength="345.62" lengthAdjust="spacing" stroke="#000" stroke-width="0.6">Jak2 mRNA (% of Con)</text>
<text transform="translate(83.6,1614.25) rotate(-90)" font-size="29.1" font-weight="normal" textLength="316.19" lengthAdjust="spacing" stroke="#000" stroke-width="0.3">(normalized to β-Actin)</text>

<rect x="1579.25" y="1353.3" width="64.5" height="282.9" fill="#000"/>
<rect x="1584.25" y="1358.7" width="56.9" height="277.5" fill="url(#p1)"/>
<rect x="1610.05" y="1323.6" width="2.9" height="30.2" fill="#000"/>
<rect x="1596.5" y="1322.3" width="30" height="2.6" fill="#000"/>
<rect x="1674.05" y="1615" width="64.5" height="21.2" fill="#000"/>
<rect x="1676.65" y="1617.6" width="57.7" height="18.6" fill="url(#p1)"/>
<rect x="1704.85" y="1613.5" width="2.9" height="2" fill="#000"/>
<rect x="1691.3" y="1612.2" width="30" height="2.6" fill="#000"/>
<rect x="1767.05" y="1617.4" width="64.5" height="18.8" fill="#000"/>
<rect x="1769.65" y="1620" width="59.3" height="16.2" fill="url(#p1)"/>
<rect x="1797.85" y="1615.4" width="2.9" height="2.5" fill="#000"/>
<rect x="1784.3" y="1614.1" width="30" height="2.6" fill="#000"/>
<rect x="1859.55" y="1573.9" width="64.5" height="62.3" fill="#000"/>
<rect x="1862.15" y="1576.5" width="59.3" height="59.7" fill="url(#p1)"/>
<rect x="1890.35" y="1569.1" width="2.9" height="5.3" fill="#000"/>
<rect x="1876.8" y="1567.8" width="30" height="2.6" fill="#000"/>
<rect x="1954.95" y="1617.9" width="64.5" height="18.3" fill="#000"/>
<rect x="1957.55" y="1620.5" width="59.3" height="15.7" fill="url(#p1)"/>
<rect x="1985.75" y="1615.8" width="2.9" height="2.6" fill="#000"/>
<rect x="1972.2" y="1614.5" width="30" height="2.6" fill="#000"/>
<rect x="2047.75" y="1617.4" width="64.5" height="18.8" fill="#000"/>
<rect x="2050.35" y="1620" width="59.3" height="16.2" fill="url(#p1)"/>
<rect x="2078.55" y="1611.2" width="2.9" height="6.7" fill="#000"/>
<rect x="2065" y="1609.9" width="30" height="2.6" fill="#000"/>
<rect x="1469.2" y="1268" width="5.4" height="373.2" fill="#000"/>
<text x="1441.32" y="1646.8" font-size="27.14" font-weight="bold">0</text>
<rect x="1461" y="1607.87" width="8.7" height="5" fill="#000"/>
<text x="1426.26" y="1618.47" font-size="27.14" font-weight="bold">10</text>
<rect x="1461" y="1579.54" width="8.7" height="5" fill="#000"/>
<text x="1426.26" y="1590.14" font-size="27.14" font-weight="bold">20</text>
<rect x="1461" y="1551.21" width="8.7" height="5" fill="#000"/>
<text x="1426.26" y="1561.81" font-size="27.14" font-weight="bold">30</text>
<rect x="1461" y="1522.88" width="8.7" height="5" fill="#000"/>
<text x="1426.26" y="1533.48" font-size="27.14" font-weight="bold">40</text>
<rect x="1461" y="1494.55" width="8.7" height="5" fill="#000"/>
<text x="1426.26" y="1505.15" font-size="27.14" font-weight="bold">50</text>
<rect x="1461" y="1466.22" width="8.7" height="5" fill="#000"/>
<text x="1426.26" y="1476.82" font-size="27.14" font-weight="bold">60</text>
<rect x="1461" y="1437.88" width="8.7" height="5" fill="#000"/>
<text x="1426.26" y="1448.48" font-size="27.14" font-weight="bold">70</text>
<rect x="1461" y="1409.55" width="8.7" height="5" fill="#000"/>
<text x="1426.26" y="1420.15" font-size="27.14" font-weight="bold">80</text>
<rect x="1461" y="1381.22" width="8.7" height="5" fill="#000"/>
<text x="1426.26" y="1391.82" font-size="27.14" font-weight="bold">90</text>
<rect x="1461" y="1352.89" width="8.7" height="5" fill="#000"/>
<text x="1411.19" y="1363.49" font-size="27.14" font-weight="bold">100</text>
<rect x="1461" y="1324.56" width="8.7" height="5" fill="#000"/>
<text x="1412.69" y="1335.16" font-size="27.14" font-weight="bold">110</text>
<rect x="1461" y="1296.23" width="8.7" height="5" fill="#000"/>
<text x="1411.19" y="1306.83" font-size="27.14" font-weight="bold">120</text>
<rect x="1461" y="1267.9" width="8.7" height="5" fill="#000"/>
<text x="1411.19" y="1278.5" font-size="27.14" font-weight="bold">130</text>
<rect x="1461" y="1636.2" width="667.7" height="5" fill="#000"/>
<rect x="1515.8" y="1640.7" width="5" height="8.5" fill="#000"/>
<rect x="1609" y="1640.7" width="5" height="8.5" fill="#000"/>
<rect x="1703.8" y="1640.7" width="5" height="8.5" fill="#000"/>
<rect x="1796.8" y="1640.7" width="5" height="8.5" fill="#000"/>
<rect x="1889.3" y="1640.7" width="5" height="8.5" fill="#000"/>
<rect x="1984.7" y="1640.7" width="5" height="8.5" fill="#000"/>
<rect x="2077.5" y="1640.7" width="5" height="8.5" fill="#000"/>
<text x="1493.43" y="1679.3" font-size="28.7" font-weight="bold" textLength="48.21" lengthAdjust="spacing">Nor</text>
<text x="1584.37" y="1679.3" font-size="28.29" font-weight="bold" textLength="54.8" lengthAdjust="spacing">Con</text>
<text x="1672.21" y="1679.3" font-size="28.29" font-weight="bold" textLength="67.06" lengthAdjust="spacing">RF25</text>
<text x="1764.71" y="1679.3" font-size="28.29" font-weight="bold" textLength="68.48" lengthAdjust="spacing">RF50</text>
<text x="1850.21" y="1679.3" font-size="28.29" font-weight="bold" textLength="82.51" lengthAdjust="spacing">RF100</text>
<text x="1945.86" y="1679.3" font-size="28.29" font-weight="bold" textLength="82.01" lengthAdjust="spacing">RF200</text>
<text x="2059.63" y="1679.3" font-size="28.7" font-weight="bold" textLength="39.71" lengthAdjust="spacing">BA</text>
<rect x="1575.9" y="1696" width="531.2" height="5.5" fill="#000"/>
<text x="1747.48" y="1747" font-size="28.99" textLength="205.23" lengthAdjust="spacing" stroke="#000" stroke-width="0.9">LPS (<tspan font-weight="bold">1</tspan> μ<tspan font-weight="bold">g</tspan>/<tspan font-weight="bold">m</tspan>L)</text>
<text x="1676.83" y="1600.77" font-size="43.43" font-weight="normal" letter-spacing="4.1" stroke="#000" stroke-width="0.4">***</text>
<text x="1769.83" y="1600.47" font-size="43.43" font-weight="normal" letter-spacing="4.1" stroke="#000" stroke-width="0.4">***</text>
<text x="1862.33" y="1537.17" font-size="43.43" font-weight="normal" letter-spacing="4.1" stroke="#000" stroke-width="0.4">***</text>
<text x="1957.73" y="1600.17" font-size="43.43" font-weight="normal" letter-spacing="4.1" stroke="#000" stroke-width="0.4">***</text>
<text transform="translate(1316.8,1610.52) rotate(-90)" font-size="30.21" font-weight="normal" textLength="316.87" lengthAdjust="spacing" stroke="#000" stroke-width="0.6">Fas mRNA (% of Con)</text>
<text transform="translate(1354.4,1615.14) rotate(-90)" font-size="28.97" font-weight="normal" textLength="317.08" lengthAdjust="spacing" stroke="#000" stroke-width="0.3">(normalized to β-Actin)</text>

<rect x="215.15" y="2213" width="64.3" height="43.2" fill="#000"/>
<rect x="217.75" y="2215.6" width="59.1" height="40.6" fill="url(#p1)"/>
<rect x="245.3" y="2174.9" width="4" height="38.6" fill="#000"/>
<rect x="230.8" y="2173.6" width="33" height="2.6" fill="#000"/>
<rect x="307.95" y="1975" width="64.3" height="281.2" fill="#000"/>
<rect x="310.55" y="1977.6" width="59.1" height="278.6" fill="url(#p1)"/>
<rect x="338.1" y="1899.4" width="4" height="76.1" fill="#000"/>
<rect x="323.6" y="1898.1" width="33" height="2.6" fill="#000"/>
<rect x="400.75" y="2202.1" width="64.3" height="54.1" fill="#000"/>
<rect x="403.35" y="2204.7" width="59.1" height="51.5" fill="url(#p1)"/>
<rect x="430.9" y="2172.2" width="4" height="30.4" fill="#000"/>
<rect x="416.4" y="2170.9" width="33" height="2.6" fill="#000"/>
<rect x="496.05" y="2207.5" width="64.3" height="48.7" fill="#000"/>
<rect x="498.65" y="2210.1" width="59.1" height="46.1" fill="url(#p1)"/>
<rect x="526.2" y="2188.5" width="4" height="19.5" fill="#000"/>
<rect x="511.7" y="2187.2" width="33" height="2.6" fill="#000"/>
<rect x="588.65" y="2166.6" width="64.3" height="89.6" fill="#000"/>
<rect x="591.25" y="2169.2" width="59.1" height="87" fill="url(#p1)"/>
<rect x="618.8" y="2146.2" width="4" height="20.9" fill="#000"/>
<rect x="604.3" y="2144.9" width="33" height="2.6" fill="#000"/>
<rect x="681.55" y="2221.6" width="64.3" height="34.6" fill="#000"/>
<rect x="686.25" y="2224.2" width="57" height="32" fill="url(#p1)"/>
<rect x="711.7" y="2214.5" width="4" height="7.6" fill="#000"/>
<rect x="697.2" y="2213.2" width="33" height="2.6" fill="#000"/>
<rect x="776.85" y="2209.7" width="64.3" height="46.5" fill="#000"/>
<rect x="779.45" y="2212.3" width="57.4" height="43.9" fill="url(#p1)"/>
<rect x="807" y="2201.1" width="4" height="9.1" fill="#000"/>
<rect x="792.5" y="2199.8" width="33" height="2.6" fill="#000"/>
<rect x="198.2" y="1887.3" width="5.5" height="374.1" fill="#000"/>
<text x="170.62" y="2267" font-size="27.14" font-weight="normal" stroke="#000" stroke-width="0.7">0</text>
<rect x="190.2" y="2227.93" width="8.5" height="5" fill="#000"/>
<text x="155.56" y="2238.63" font-size="27.14" font-weight="normal" stroke="#000" stroke-width="0.7">10</text>
<rect x="190.2" y="2199.56" width="8.5" height="5" fill="#000"/>
<text x="155.56" y="2210.26" font-size="27.14" font-weight="normal" stroke="#000" stroke-width="0.7">20</text>
<rect x="190.2" y="2171.19" width="8.5" height="5" fill="#000"/>
<text x="155.56" y="2181.89" font-size="27.14" font-weight="normal" stroke="#000" stroke-width="0.7">30</text>
<rect x="190.2" y="2142.82" width="8.5" height="5" fill="#000"/>
<text x="155.56" y="2153.52" font-size="27.14" font-weight="normal" stroke="#000" stroke-width="0.7">40</text>
<rect x="190.2" y="2114.45" width="8.5" height="5" fill="#000"/>
<text x="155.56" y="2125.15" font-size="27.14" font-weight="normal" stroke="#000" stroke-width="0.7">50</text>
<rect x="190.2" y="2086.08" width="8.5" height="5" fill="#000"/>
<text x="155.56" y="2096.78" font-size="27.14" font-weight="normal" stroke="#000" stroke-width="0.7">60</text>
<rect x="190.2" y="2057.72" width="8.5" height="5" fill="#000"/>
<text x="155.56" y="2068.42" font-size="27.14" font-weight="normal" stroke="#000" stroke-width="0.7">70</text>
<rect x="190.2" y="2029.35" width="8.5" height="5" fill="#000"/>
<text x="155.56" y="2040.05" font-size="27.14" font-weight="normal" stroke="#000" stroke-width="0.7">80</text>
<rect x="190.2" y="2000.98" width="8.5" height="5" fill="#000"/>
<text x="155.56" y="2011.68" font-size="27.14" font-weight="normal" stroke="#000" stroke-width="0.7">90</text>
<rect x="190.2" y="1972.61" width="8.5" height="5" fill="#000"/>
<text x="140.49" y="1983.31" font-size="27.14" font-weight="normal" stroke="#000" stroke-width="0.7">100</text>
<rect x="190.2" y="1944.24" width="8.5" height="5" fill="#000"/>
<text x="142.39" y="1954.94" font-size="27.14" font-weight="normal" stroke="#000" stroke-width="0.7">110</text>
<rect x="190.2" y="1915.87" width="8.5" height="5" fill="#000"/>
<text x="140.49" y="1926.57" font-size="27.14" font-weight="normal" stroke="#000" stroke-width="0.7">120</text>
<rect x="190.2" y="1887.5" width="8.5" height="5" fill="#000"/>
<text x="140.49" y="1898.2" font-size="27.14" font-weight="normal" stroke="#000" stroke-width="0.7">130</text>
<rect x="190.2" y="2256.2" width="667.5" height="5.2" fill="#000"/>
<rect x="244.8" y="2260.9" width="5" height="8.5" fill="#000"/>
<rect x="337.6" y="2260.9" width="5" height="8.5" fill="#000"/>
<rect x="430.4" y="2260.9" width="5" height="8.5" fill="#000"/>
<rect x="525.7" y="2260.9" width="5" height="8.5" fill="#000"/>
<rect x="618.3" y="2260.9" width="5" height="8.5" fill="#000"/>
<rect x="711.2" y="2260.9" width="5" height="8.5" fill="#000"/>
<rect x="806.5" y="2260.9" width="5" height="8.5" fill="#000"/>
<text x="222.13" y="2299" font-size="27.1" font-weight="normal" textLength="48.61" lengthAdjust="spacing" stroke="#000" stroke-width="0.8">Nor</text>
<text x="312.76" y="2299" font-size="26.71" font-weight="normal" textLength="55.06" lengthAdjust="spacing" stroke="#000" stroke-width="0.8">Con</text>
<text x="398.51" y="2299" font-size="26.71" font-weight="normal" textLength="67.72" lengthAdjust="spacing" stroke="#000" stroke-width="0.8">RF25</text>
<text x="493.71" y="2299" font-size="26.71" font-weight="bold" textLength="68.32" lengthAdjust="spacing">RF50</text>
<text x="579.31" y="2299" font-size="26.71" font-weight="bold" textLength="82.35" lengthAdjust="spacing">RF100</text>
<text x="672.06" y="2299" font-size="26.71" font-weight="normal" textLength="82.25" lengthAdjust="spacing" stroke="#000" stroke-width="0.8">RF200</text>
<text x="788.74" y="2299" font-size="27.1" font-weight="bold" textLength="39.56" lengthAdjust="spacing">BA</text>
<rect x="302.1" y="2316.3" width="531.7" height="4.7" fill="#000"/>
<text x="474.49" y="2366.5" font-size="28.84" textLength="206.21" lengthAdjust="spacing" stroke="#000" stroke-width="0.9">LPS (<tspan font-weight="bold">1</tspan> μ<tspan font-weight="bold">g</tspan>/<tspan font-weight="bold">m</tspan>L)</text>
<text x="413.93" y="2159.57" font-size="43.43" font-weight="normal" letter-spacing="4.1" stroke="#000" stroke-width="0.4">**</text>
<text x="509.23" y="2173.57" font-size="43.43" font-weight="normal" letter-spacing="4.1" stroke="#000" stroke-width="0.4">**</text>
<text x="601.83" y="2133.07" font-size="43.43" font-weight="normal" letter-spacing="4.1" stroke="#000" stroke-width="0.4">**</text>
<text x="694.73" y="2190.17" font-size="43.43" font-weight="normal" letter-spacing="4.1" stroke="#000" stroke-width="0.4">**</text>
<text transform="translate(45.9,2247.86) rotate(-90)" font-size="30.21" font-weight="normal" textLength="348.31" lengthAdjust="spacing" stroke="#000" stroke-width="0.6">c-Jun mRNA (% of Con)</text>
<text transform="translate(83.6,2228.15) rotate(-90)" font-size="29.1" font-weight="normal" textLength="309.19" lengthAdjust="spacing" stroke="#000" stroke-width="0.3">(normalized to β-Actin)</text>

<rect x="1486.05" y="2250.2" width="64.5" height="5.9" fill="#000"/>
<rect x="1488.65" y="2252.8" width="59.3" height="3.3" fill="url(#p1)"/>
<rect x="1516.85" y="2248.1" width="2.9" height="2.6" fill="#000"/>
<rect x="1503.3" y="2246.8" width="30" height="2.6" fill="#000"/>
<rect x="1579.25" y="1974.6" width="64.5" height="281.5" fill="#000"/>
<rect x="1584.25" y="1977.2" width="56.9" height="278.9" fill="url(#p1)"/>
<rect x="1610.05" y="1967.5" width="2.9" height="7.6" fill="#000"/>
<rect x="1596.5" y="1966.2" width="30" height="2.6" fill="#000"/>
<rect x="1674.05" y="2130.6" width="64.5" height="125.5" fill="#000"/>
<rect x="1676.65" y="2133.2" width="57.7" height="122.9" fill="url(#p1)"/>
<rect x="1704.85" y="2112" width="2.9" height="19.1" fill="#000"/>
<rect x="1691.3" y="2110.7" width="30" height="2.6" fill="#000"/>
<rect x="1767.05" y="2188.2" width="64.5" height="67.9" fill="#000"/>
<rect x="1769.65" y="2190.8" width="59.3" height="65.3" fill="url(#p1)"/>
<rect x="1797.85" y="2175.1" width="2.9" height="13.6" fill="#000"/>
<rect x="1784.3" y="2173.8" width="30" height="2.6" fill="#000"/>
<rect x="1859.55" y="2024.1" width="64.5" height="232" fill="#000"/>
<rect x="1862.15" y="2026.7" width="59.3" height="229.4" fill="url(#p1)"/>
<rect x="1890.35" y="2000.2" width="2.9" height="24.4" fill="#000"/>
<rect x="1876.8" y="1998.9" width="30" height="2.6" fill="#000"/>
<rect x="1954.95" y="2149.9" width="64.5" height="106.2" fill="#000"/>
<rect x="1957.55" y="2152.5" width="59.3" height="103.6" fill="url(#p1)"/>
<rect x="1985.75" y="2139.4" width="2.9" height="11" fill="#000"/>
<rect x="1972.2" y="2138.1" width="30" height="2.6" fill="#000"/>
<rect x="2047.75" y="2160.8" width="64.5" height="95.3" fill="#000"/>
<rect x="2050.35" y="2163.4" width="59.3" height="92.7" fill="url(#p1)"/>
<rect x="2078.55" y="2141.9" width="2.9" height="19.4" fill="#000"/>
<rect x="2065" y="2140.6" width="30" height="2.6" fill="#000"/>
<rect x="1469.2" y="1887.3" width="5.4" height="373.9" fill="#000"/>
<text x="1441.32" y="2266.8" font-size="27.14" font-weight="bold">0</text>
<rect x="1461" y="2227.84" width="8.7" height="5" fill="#000"/>
<text x="1426.26" y="2238.44" font-size="27.14" font-weight="bold">10</text>
<rect x="1461" y="2199.48" width="8.7" height="5" fill="#000"/>
<text x="1426.26" y="2210.08" font-size="27.14" font-weight="bold">20</text>
<rect x="1461" y="2171.12" width="8.7" height="5" fill="#000"/>
<text x="1426.26" y="2181.72" font-size="27.14" font-weight="bold">30</text>
<rect x="1461" y="2142.75" width="8.7" height="5" fill="#000"/>
<text x="1426.26" y="2153.35" font-size="27.14" font-weight="bold">40</text>
<rect x="1461" y="2114.39" width="8.7" height="5" fill="#000"/>
<text x="1426.26" y="2124.99" font-size="27.14" font-weight="bold">50</text>
<rect x="1461" y="2086.03" width="8.7" height="5" fill="#000"/>
<text x="1426.26" y="2096.63" font-size="27.14" font-weight="bold">60</text>
<rect x="1461" y="2057.67" width="8.7" height="5" fill="#000"/>
<text x="1426.26" y="2068.27" font-size="27.14" font-weight="bold">70</text>
<rect x="1461" y="2029.31" width="8.7" height="5" fill="#000"/>
<text x="1426.26" y="2039.91" font-size="27.14" font-weight="bold">80</text>
<rect x="1461" y="2000.95" width="8.7" height="5" fill="#000"/>
<text x="1426.26" y="2011.55" font-size="27.14" font-weight="bold">90</text>
<rect x="1461" y="1972.58" width="8.7" height="5" fill="#000"/>
<text x="1411.19" y="1983.18" font-size="27.14" font-weight="bold">100</text>
<rect x="1461" y="1944.22" width="8.7" height="5" fill="#000"/>
<text x="1412.69" y="1954.82" font-size="27.14" font-weight="bold">110</text>
<rect x="1461" y="1915.86" width="8.7" height="5" fill="#000"/>
<text x="1411.19" y="1926.46" font-size="27.14" font-weight="bold">120</text>
<rect x="1461" y="1887.5" width="8.7" height="5" fill="#000"/>
<text x="1411.19" y="1898.1" font-size="27.14" font-weight="bold">130</text>
<rect x="1461" y="2256.1" width="667.7" height="5.1" fill="#000"/>
<rect x="1515.8" y="2260.7" width="5" height="8.5" fill="#000"/>
<rect x="1609" y="2260.7" width="5" height="8.5" fill="#000"/>
<rect x="1703.8" y="2260.7" width="5" height="8.5" fill="#000"/>
<rect x="1796.8" y="2260.7" width="5" height="8.5" fill="#000"/>
<rect x="1889.3" y="2260.7" width="5" height="8.5" fill="#000"/>
<rect x="1984.7" y="2260.7" width="5" height="8.5" fill="#000"/>
<rect x="2077.5" y="2260.7" width="5" height="8.5" fill="#000"/>
<text x="1493.62" y="2298.8" font-size="25.8" font-weight="bold" textLength="47.99" lengthAdjust="spacing">Nor</text>
<text x="1584.48" y="2298.8" font-size="25.43" font-weight="bold" textLength="54.52" lengthAdjust="spacing">Con</text>
<text x="1672.4" y="2298.8" font-size="25.43" font-weight="bold" textLength="66.8" lengthAdjust="spacing">RF25</text>
<text x="1764.9" y="2298.8" font-size="25.43" font-weight="bold" textLength="68.18" lengthAdjust="spacing">RF50</text>
<text x="1850.4" y="2298.8" font-size="25.43" font-weight="bold" textLength="82.21" lengthAdjust="spacing">RF100</text>
<text x="1946.05" y="2298.8" font-size="25.43" font-weight="bold" textLength="81.71" lengthAdjust="spacing">RF200</text>
<text x="2059.82" y="2298.8" font-size="25.8" font-weight="bold" textLength="39.43" lengthAdjust="spacing">BA</text>
<rect x="1575.9" y="2315.8" width="531.2" height="5" fill="#000"/>
<text x="1747.05" y="2367.5" font-size="29.42" textLength="205.39" lengthAdjust="spacing" stroke="#000" stroke-width="0.9">LPS (<tspan font-weight="bold">1</tspan> μ<tspan font-weight="bold">g</tspan>/<tspan font-weight="bold">m</tspan>L)</text>
<text x="1676.83" y="2089.87" font-size="43.43" font-weight="normal" letter-spacing="4.1" stroke="#000" stroke-width="0.4">***</text>
<text x="1769.83" y="2154.87" font-size="43.43" font-weight="normal" letter-spacing="4.1" stroke="#000" stroke-width="0.4">***</text>
<text x="1872.83" y="1974.37" font-size="43.43" font-weight="normal" letter-spacing="4.1" stroke="#000" stroke-width="0.4">**</text>
<text x="1957.73" y="2114.07" font-size="43.43" font-weight="normal" letter-spacing="4.1" stroke="#000" stroke-width="0.4">***</text>
<text transform="translate(1316.8,2247.86) rotate(-90)" font-size="30.21" font-weight="normal" textLength="348.3" lengthAdjust="spacing" stroke="#000" stroke-width="0.6">c-Fos mRNA (% of Con)</text>
<text transform="translate(1354.4,2229.04) rotate(-90)" font-size="28.97" font-weight="normal" textLength="310.08" lengthAdjust="spacing" stroke="#000" stroke-width="0.3">(normalized to β-Actin)</text>

<rect x="307.95" y="2594.3" width="64.3" height="283.5" fill="#000"/>
<rect x="310.55" y="2599.1" width="59.1" height="278.7" fill="url(#p1)"/>
<rect x="338.1" y="2584.3" width="4" height="10.5" fill="#000"/>
<rect x="323.6" y="2583" width="33" height="2.6" fill="#000"/>
<rect x="400.75" y="2850.8" width="64.3" height="27" fill="#000"/>
<rect x="403.35" y="2853.4" width="59.1" height="24.4" fill="url(#p1)"/>
<rect x="430.9" y="2849.4" width="4" height="1.9" fill="#000"/>
<rect x="416.4" y="2848.1" width="33" height="2.6" fill="#000"/>
<rect x="496.05" y="2867.5" width="64.3" height="10.3" fill="#000"/>
<rect x="498.65" y="2870.1" width="59.1" height="7.7" fill="url(#p1)"/>
<rect x="588.65" y="2799.3" width="64.3" height="78.5" fill="#000"/>
<rect x="591.25" y="2801.9" width="59.1" height="75.9" fill="url(#p1)"/>
<rect x="618.8" y="2782.2" width="4" height="17.6" fill="#000"/>
<rect x="604.3" y="2780.9" width="33" height="2.6" fill="#000"/>
<rect x="681.55" y="2858.8" width="64.3" height="19" fill="#000"/>
<rect x="686.25" y="2861.4" width="57" height="16.4" fill="url(#p1)"/>
<rect x="711.7" y="2857" width="4" height="2.3" fill="#000"/>
<rect x="697.2" y="2855.7" width="33" height="2.6" fill="#000"/>
<rect x="776.85" y="2856.6" width="64.3" height="21.2" fill="#000"/>
<rect x="779.45" y="2859.2" width="57.4" height="18.6" fill="url(#p1)"/>
<rect x="807" y="2851.2" width="4" height="5.9" fill="#000"/>
<rect x="792.5" y="2849.9" width="33" height="2.6" fill="#000"/>
<rect x="198.2" y="2509.4" width="5.5" height="373.2" fill="#000"/>
<text x="170.62" y="2888.4" font-size="27.14" font-weight="normal" stroke="#000" stroke-width="0.7">0</text>
<rect x="190.2" y="2849.38" width="8.5" height="5" fill="#000"/>
<text x="155.56" y="2860.08" font-size="27.14" font-weight="normal" stroke="#000" stroke-width="0.7">10</text>
<rect x="190.2" y="2821.05" width="8.5" height="5" fill="#000"/>
<text x="155.56" y="2831.75" font-size="27.14" font-weight="normal" stroke="#000" stroke-width="0.7">20</text>
<rect x="190.2" y="2792.73" width="8.5" height="5" fill="#000"/>
<text x="155.56" y="2803.43" font-size="27.14" font-weight="normal" stroke="#000" stroke-width="0.7">30</text>
<rect x="190.2" y="2764.41" width="8.5" height="5" fill="#000"/>
<text x="155.56" y="2775.11" font-size="27.14" font-weight="normal" stroke="#000" stroke-width="0.7">40</text>
<rect x="190.2" y="2736.08" width="8.5" height="5" fill="#000"/>
<text x="155.56" y="2746.78" font-size="27.14" font-weight="normal" stroke="#000" stroke-width="0.7">50</text>
<rect x="190.2" y="2707.76" width="8.5" height="5" fill="#000"/>
<text x="155.56" y="2718.46" font-size="27.14" font-weight="normal" stroke="#000" stroke-width="0.7">60</text>
<rect x="190.2" y="2679.44" width="8.5" height="5" fill="#000"/>
<text x="155.56" y="2690.14" font-size="27.14" font-weight="normal" stroke="#000" stroke-width="0.7">70</text>
<rect x="190.2" y="2651.12" width="8.5" height="5" fill="#000"/>
<text x="155.56" y="2661.82" font-size="27.14" font-weight="normal" stroke="#000" stroke-width="0.7">80</text>
<rect x="190.2" y="2622.79" width="8.5" height="5" fill="#000"/>
<text x="155.56" y="2633.49" font-size="27.14" font-weight="normal" stroke="#000" stroke-width="0.7">90</text>
<rect x="190.2" y="2594.47" width="8.5" height="5" fill="#000"/>
<text x="140.49" y="2605.17" font-size="27.14" font-weight="normal" stroke="#000" stroke-width="0.7">100</text>
<rect x="190.2" y="2566.15" width="8.5" height="5" fill="#000"/>
<text x="142.39" y="2576.85" font-size="27.14" font-weight="normal" stroke="#000" stroke-width="0.7">110</text>
<rect x="190.2" y="2537.82" width="8.5" height="5" fill="#000"/>
<text x="140.49" y="2548.52" font-size="27.14" font-weight="normal" stroke="#000" stroke-width="0.7">120</text>
<rect x="190.2" y="2509.5" width="8.5" height="5" fill="#000"/>
<text x="140.49" y="2520.2" font-size="27.14" font-weight="normal" stroke="#000" stroke-width="0.7">130</text>
<rect x="190.2" y="2877.8" width="667.5" height="4.8" fill="#000"/>
<rect x="244.8" y="2882.1" width="5" height="8.5" fill="#000"/>
<rect x="337.6" y="2882.1" width="5" height="8.5" fill="#000"/>
<rect x="430.4" y="2882.1" width="5" height="8.5" fill="#000"/>
<rect x="525.7" y="2882.1" width="5" height="8.5" fill="#000"/>
<rect x="618.3" y="2882.1" width="5" height="8.5" fill="#000"/>
<rect x="711.2" y="2882.1" width="5" height="8.5" fill="#000"/>
<rect x="806.5" y="2882.1" width="5" height="8.5" fill="#000"/>
<text x="222.13" y="2921" font-size="27.1" font-weight="normal" textLength="48.61" lengthAdjust="spacing" stroke="#000" stroke-width="0.8">Nor</text>
<text x="312.76" y="2921" font-size="26.71" font-weight="normal" textLength="55.06" lengthAdjust="spacing" stroke="#000" stroke-width="0.8">Con</text>
<text x="398.91" y="2921" font-size="26.71" font-weight="bold" textLength="66.91" lengthAdjust="spacing">RF25</text>
<text x="493.71" y="2921" font-size="26.71" font-weight="bold" textLength="68.32" lengthAdjust="spacing">RF50</text>
<text x="579.31" y="2921" font-size="26.71" font-weight="bold" textLength="82.35" lengthAdjust="spacing">RF100</text>
<text x="672.06" y="2921" font-size="26.71" font-weight="normal" textLength="82.25" lengthAdjust="spacing" stroke="#000" stroke-width="0.8">RF200</text>
<text x="788.74" y="2921" font-size="27.1" font-weight="bold" textLength="39.56" lengthAdjust="spacing">BA</text>
<rect x="302.1" y="2938.2" width="531.8" height="5.1" fill="#000"/>
<text x="474.35" y="2988.5" font-size="28.12" textLength="206.51" lengthAdjust="spacing" stroke="#000" stroke-width="0.9">LPS (<tspan font-weight="bold">1</tspan> μ<tspan font-weight="bold">g</tspan>/<tspan font-weight="bold">m</tspan>L)</text>
<text x="403.43" y="2842.37" font-size="43.43" font-weight="normal" letter-spacing="4.1" stroke="#000" stroke-width="0.4">***</text>
<text x="498.73" y="2841.77" font-size="43.43" font-weight="normal" letter-spacing="4.1" stroke="#000" stroke-width="0.4">***</text>
<text x="591.33" y="2779.27" font-size="43.43" font-weight="normal" letter-spacing="4.1" stroke="#000" stroke-width="0.4">***</text>
<text x="684.23" y="2841.77" font-size="43.43" font-weight="normal" letter-spacing="4.1" stroke="#000" stroke-width="0.4">***</text>
<text transform="translate(45.9,2872.42) rotate(-90)" font-size="30.21" font-weight="normal" textLength="348.44" lengthAdjust="spacing" stroke="#000" stroke-width="0.6">Nos2 mRNA (% of Con)</text>
<text transform="translate(83.6,2852.55) rotate(-90)" font-size="29.1" font-weight="normal" textLength="312.69" lengthAdjust="spacing" stroke="#000" stroke-width="0.3">(normalized to β-Actin)</text>
<rect x="231" y="2875" width="30" height="2.2" fill="#999"/>
<rect x="1579.25" y="2595" width="64.5" height="282.4" fill="#000"/>
<rect x="1584.25" y="2599.8" width="56.9" height="277.6" fill="url(#p1)"/>
<rect x="1610.05" y="2554.1" width="2.9" height="41.4" fill="#000"/>
<rect x="1596.5" y="2552.8" width="30" height="2.6" fill="#000"/>
<rect x="1674.05" y="2818.4" width="64.5" height="59" fill="#000"/>
<rect x="1676.65" y="2821" width="57.7" height="56.4" fill="url(#p1)"/>
<rect x="1704.85" y="2816.9" width="2.9" height="2" fill="#000"/>
<rect x="1691.3" y="2815.6" width="30" height="2.6" fill="#000"/>
<rect x="1767.05" y="2842.9" width="64.5" height="34.5" fill="#000"/>
<rect x="1769.65" y="2845.5" width="59.3" height="31.9" fill="url(#p1)"/>
<rect x="1797.85" y="2841" width="2.9" height="2.4" fill="#000"/>
<rect x="1784.3" y="2839.7" width="30" height="2.6" fill="#000"/>
<rect x="1859.55" y="2698" width="64.5" height="179.4" fill="#000"/>
<rect x="1862.15" y="2700.6" width="59.3" height="176.8" fill="url(#p1)"/>
<rect x="1890.35" y="2677" width="2.9" height="21.5" fill="#000"/>
<rect x="1876.8" y="2675.7" width="30" height="2.6" fill="#000"/>
<rect x="1954.95" y="2872.6" width="64.5" height="4.8" fill="#000"/>
<rect x="1957.55" y="2875.2" width="59.3" height="2.2" fill="url(#p1)"/>
<rect x="1985.75" y="2871.1" width="2.9" height="2" fill="#000"/>
<rect x="1972.2" y="2869.8" width="30" height="2.6" fill="#000"/>
<rect x="2047.75" y="2815.2" width="64.5" height="62.2" fill="#000"/>
<rect x="2050.35" y="2817.8" width="59.3" height="59.6" fill="url(#p1)"/>
<rect x="2078.55" y="2810.4" width="2.9" height="5.3" fill="#000"/>
<rect x="2065" y="2809.1" width="30" height="2.6" fill="#000"/>
<rect x="1469.2" y="2509.4" width="5.4" height="373.1" fill="#000"/>
<text x="1441.32" y="2888.1" font-size="27.14" font-weight="bold">0</text>
<rect x="1461" y="2849.19" width="8.7" height="5" fill="#000"/>
<text x="1426.26" y="2859.79" font-size="27.14" font-weight="bold">10</text>
<rect x="1461" y="2820.88" width="8.7" height="5" fill="#000"/>
<text x="1426.26" y="2831.48" font-size="27.14" font-weight="bold">20</text>
<rect x="1461" y="2792.58" width="8.7" height="5" fill="#000"/>
<text x="1426.26" y="2803.18" font-size="27.14" font-weight="bold">30</text>
<rect x="1461" y="2764.27" width="8.7" height="5" fill="#000"/>
<text x="1426.26" y="2774.87" font-size="27.14" font-weight="bold">40</text>
<rect x="1461" y="2735.96" width="8.7" height="5" fill="#000"/>
<text x="1426.26" y="2746.56" font-size="27.14" font-weight="bold">50</text>
<rect x="1461" y="2707.65" width="8.7" height="5" fill="#000"/>
<text x="1426.26" y="2718.25" font-size="27.14" font-weight="bold">60</text>
<rect x="1461" y="2679.35" width="8.7" height="5" fill="#000"/>
<text x="1426.26" y="2689.95" font-size="27.14" font-weight="bold">70</text>
<rect x="1461" y="2651.04" width="8.7" height="5" fill="#000"/>
<text x="1426.26" y="2661.64" font-size="27.14" font-weight="bold">80</text>
<rect x="1461" y="2622.73" width="8.7" height="5" fill="#000"/>
<text x="1426.26" y="2633.33" font-size="27.14" font-weight="bold">90</text>
<rect x="1461" y="2594.42" width="8.7" height="5" fill="#000"/>
<text x="1411.19" y="2605.02" font-size="27.14" font-weight="bold">100</text>
<rect x="1461" y="2566.12" width="8.7" height="5" fill="#000"/>
<text x="1412.69" y="2576.72" font-size="27.14" font-weight="bold">110</text>
<rect x="1461" y="2537.81" width="8.7" height="5" fill="#000"/>
<text x="1411.19" y="2548.41" font-size="27.14" font-weight="bold">120</text>
<rect x="1461" y="2509.5" width="8.7" height="5" fill="#000"/>
<text x="1411.19" y="2520.1" font-size="27.14" font-weight="bold">130</text>
<rect x="1461" y="2877.4" width="667.7" height="5.1" fill="#000"/>
<rect x="1515.8" y="2882" width="5" height="8.5" fill="#000"/>
<rect x="1609" y="2882" width="5" height="8.5" fill="#000"/>
<rect x="1703.8" y="2882" width="5" height="8.5" fill="#000"/>
<rect x="1796.8" y="2882" width="5" height="8.5" fill="#000"/>
<rect x="1889.3" y="2882" width="5" height="8.5" fill="#000"/>
<rect x="1984.7" y="2882" width="5" height="8.5" fill="#000"/>
<rect x="2077.5" y="2882" width="5" height="8.5" fill="#000"/>
<text x="1493.58" y="2920.5" font-size="26.52" font-weight="bold" textLength="48.05" lengthAdjust="spacing">Nor</text>
<text x="1584.45" y="2920.5" font-size="26.14" font-weight="bold" textLength="54.59" lengthAdjust="spacing">Con</text>
<text x="1672.35" y="2920.5" font-size="26.14" font-weight="bold" textLength="66.86" lengthAdjust="spacing">RF25</text>
<text x="1764.85" y="2920.5" font-size="26.14" font-weight="bold" textLength="68.26" lengthAdjust="spacing">RF50</text>
<text x="1850.35" y="2920.5" font-size="26.14" font-weight="bold" textLength="82.29" lengthAdjust="spacing">RF100</text>
<text x="1946" y="2920.5" font-size="26.14" font-weight="bold" textLength="81.79" lengthAdjust="spacing">RF200</text>
<text x="2059.78" y="2920.5" font-size="26.52" font-weight="bold" textLength="39.5" lengthAdjust="spacing">BA</text>
<rect x="1575.7" y="2938.1" width="531.3" height="4.9" fill="#000"/>
<text x="1746.65" y="2989.6" font-size="29.42" textLength="206.29" lengthAdjust="spacing" stroke="#000" stroke-width="0.9">LPS (<tspan font-weight="bold">1</tspan> μ<tspan font-weight="bold">g</tspan>/<tspan font-weight="bold">m</tspan>L)</text>
<text x="1676.83" y="2793.17" font-size="43.43" font-weight="normal" letter-spacing="4.1" stroke="#000" stroke-width="0.4">***</text>
<text x="1769.83" y="2817.97" font-size="43.43" font-weight="normal" letter-spacing="4.1" stroke="#000" stroke-width="0.4">***</text>
<text x="1872.83" y="2659.57" font-size="43.43" font-weight="normal" letter-spacing="4.1" stroke="#000" stroke-width="0.4">**</text>
<text x="1957.73" y="2852.97" font-size="43.43" font-weight="normal" letter-spacing="4.1" stroke="#000" stroke-width="0.4">***</text>
<text transform="translate(1316.8,2871.62) rotate(-90)" font-size="30.21" font-weight="normal" textLength="351.07" lengthAdjust="spacing" stroke="#000" stroke-width="0.6">Ptgs2 mRNA (% of Con)</text>
<text transform="translate(1354.4,2851.64) rotate(-90)" font-size="28.97" font-weight="normal" textLength="310.98" lengthAdjust="spacing" stroke="#000" stroke-width="0.3">(normalized to β-Actin)</text>

</svg>
</body></html>
